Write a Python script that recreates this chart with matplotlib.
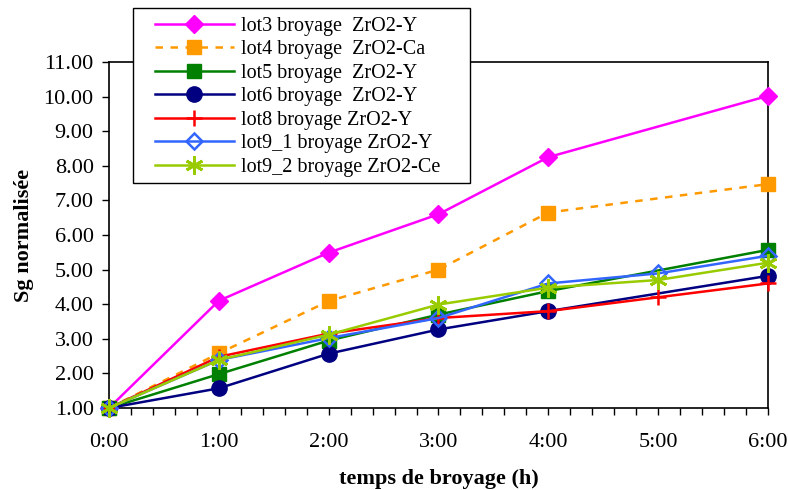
import matplotlib
matplotlib.use("Agg")
import matplotlib.pyplot as plt
from matplotlib.ticker import MultipleLocator, FixedLocator, FormatStrFormatter
from matplotlib.patches import Rectangle

plt.rcParams['font.family'] = ['Liberation Serif', 'DejaVu Serif']

# hours of milling
hours_all = [0, 1, 2, 3, 4, 5, 6]
hours_no5 = [0, 1, 2, 3, 4, 6]
tick_labels = ["0:00", "1:00", "2:00", "3:00", "4:00", "5:00", "6:00"]

lot3 = [1.00, 4.10, 5.49, 6.60, 8.25, 10.02]
lot4 = [1.00, 2.58, 4.09, 5.00, 6.65, 7.47]
lot5 = [1.00, 1.98, 2.95, 3.70, 4.38, 5.57]
lot6 = [1.00, 1.57, 2.57, 3.27, 3.80, 4.82]
lot8 = [1.00, 2.48, 3.15, 3.60, 3.80, 4.20, 4.60]
lot9_1 = [1.00, 2.39, 3.02, 3.60, 4.60, 4.89, 5.40]
lot9_2 = [1.00, 2.39, 3.12, 3.99, 4.48, 4.70, 5.20]

fig = plt.figure(figsize=(7.88, 4.9), dpi=100)
ax = fig.add_axes([0.1383, 0.1673, 0.8363, 0.7062])

lw = 1.8
ax.plot(hours_no5, lot3, color="#FF00FF", lw=lw, marker="D", ms=9,
        label="lot3 broyage  ZrO2-Y", clip_on=False, zorder=3)
ax.plot(hours_no5, lot4, color="#FF9900", lw=lw, ls=(0, (3, 3)), marker="s", ms=10,
        label="lot4 broyage  ZrO2-Ca", clip_on=False, zorder=3)
ax.plot(hours_no5, lot5, color="#008000", lw=lw, marker="s", ms=10,
        label="lot5 broyage  ZrO2-Y", clip_on=False, zorder=3)
ax.plot(hours_no5, lot6, color="#000080", lw=lw, marker="o", ms=11,
        label="lot6 broyage  ZrO2-Y", clip_on=False, zorder=3)
ax.plot(hours_all, lot8, color="#FF0000", lw=lw, marker="+", ms=12, mew=1.8,
        label="lot8 broyage ZrO2-Y", clip_on=False, zorder=3)
ax.plot(hours_all, lot9_1, color="#3366FF", lw=lw, marker="D", ms=8, mew=1.8,
        mfc="none", label="lot9_1 broyage ZrO2-Y", clip_on=False, zorder=3)
ax.plot(hours_all, lot9_2, color="#99CC00", lw=lw, marker=(6, 2, 0), ms=13, mew=2,
        label="lot9_2 broyage ZrO2-Ce", clip_on=False, zorder=3)

ax.set_xlim(0, 6)
ax.set_ylim(1, 11)
ax.xaxis.set_major_locator(FixedLocator(hours_all))
ax.set_xticklabels(tick_labels)
ax.xaxis.set_minor_locator(MultipleLocator(0.2))
ax.yaxis.set_major_locator(MultipleLocator(1))
ax.yaxis.set_major_formatter(FormatStrFormatter("%.2f"))

ax.tick_params(axis="both", which="major", direction="out", length=5, width=1,
               labelsize=16, colors="black")
ax.tick_params(axis="x", which="minor", direction="out", length=5, width=1)
ax.tick_params(axis="x", which="major", pad=13)
ax.tick_params(axis="y", which="major", pad=6)
for sp in ax.spines.values():
    sp.set_linewidth(1.2)
    sp.set_color("black")

ax.set_xlabel("temps de broyage (h)", fontsize=16, fontweight="bold", labelpad=12)
ax.set_ylabel("Sg normalisée", fontsize=16, fontweight="bold", labelpad=7)

# legend frame drawn separately so the padding can match
box = Rectangle((0.1688, 0.6265), 0.4277, 0.3571, transform=fig.transFigure,
                facecolor="white", edgecolor="black", linewidth=1.0, zorder=4)
fig.patches.append(box)

handles, labels = ax.get_legend_handles_labels()
leg = fig.legend(handles, labels, loc="upper left", bbox_to_anchor=(0.1967, 0.966),
                 bbox_transform=fig.transFigure, fontsize=14.5, frameon=False,
                 borderaxespad=0, borderpad=0, labelspacing=0.22,
                 handlelength=3.9, handletextpad=0.35)
leg.set_zorder(5)

fig.savefig("out.png", dpi=100)
